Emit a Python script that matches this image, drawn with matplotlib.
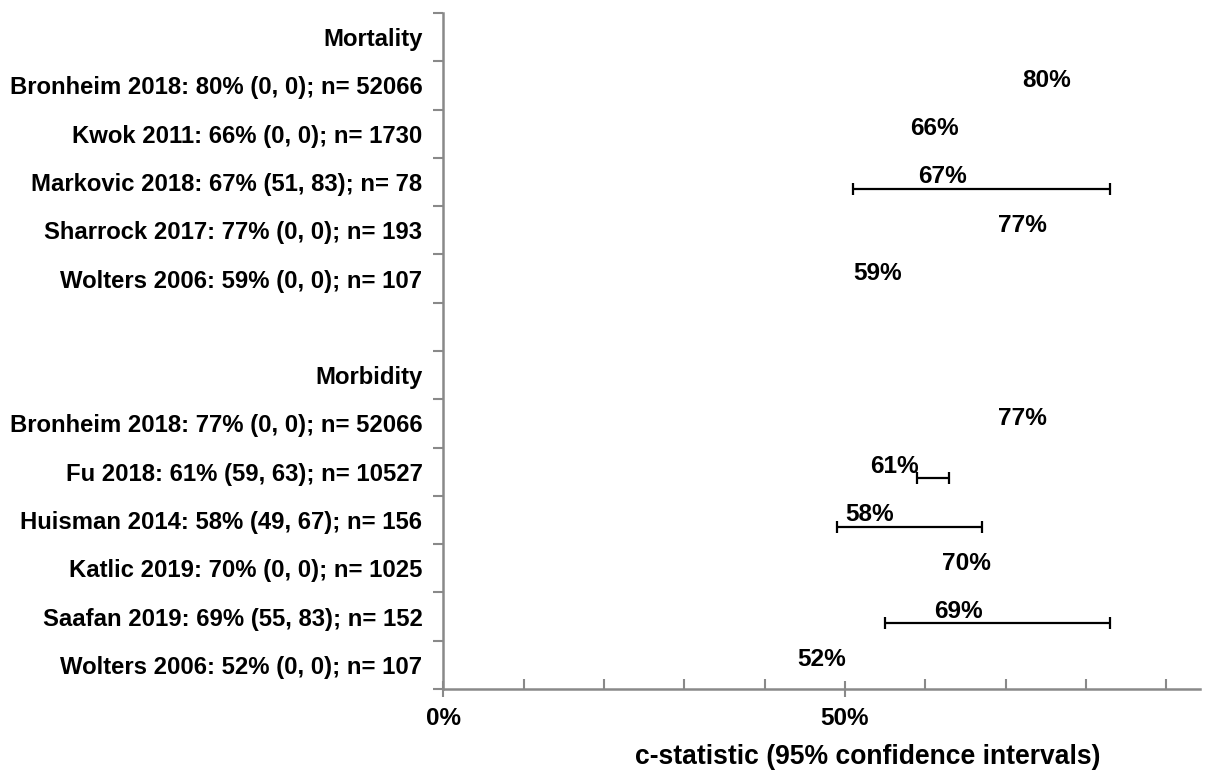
import numpy as np
import matplotlib
matplotlib.use("Agg")
import matplotlib.pyplot as plt

plt.rcParams['font.family'] = ['Liberation Sans', 'DejaVu Sans']
plt.rcParams['font.weight'] = 'bold'

# rows from top to bottom ("" = spacer row)
row_labels = ["Mortality",
              "Bronheim 2018: 80% (0, 0); n= 52066",
              "Kwok 2011: 66% (0, 0); n= 1730",
              "Markovic 2018: 67% (51, 83); n= 78",
              "Sharrock 2017: 77% (0, 0); n= 193",
              "Wolters 2006: 59% (0, 0); n= 107",
              "",
              "Morbidity",
              "Bronheim 2018: 77% (0, 0); n= 52066",
              "Fu 2018: 61% (59, 63); n= 10527",
              "Huisman 2014: 58% (49, 67); n= 156",
              "Katlic 2019: 70% (0, 0); n= 1025",
              "Saafan 2019: 69% (55, 83); n= 152",
              "Wolters 2006: 52% (0, 0); n= 107"]

# c-statistic per row (None = no point)
cstat = [None, 0.80, 0.66, 0.67, 0.77, 0.59, None,
         None, 0.77, 0.61, 0.58, 0.70, 0.69, 0.52]
ci_low = [None, None, None, 0.51, None, None, None,
          None, None, 0.59, 0.49, None, 0.55, None]
ci_high = [None, None, None, 0.83, None, None, None,
           None, None, 0.63, 0.67, None, 0.83, None]

xticks_major = [0.0, 0.5]
xtick_labels = ["0%", "50%"]

axis_col = '#898989'

fig = plt.figure(figsize=(12.09, 7.71), dpi=100)
ax = fig.add_axes([443.3/1209, 1-689/771, (1200-443.3)/1209, (689-13)/771])

n = len(row_labels)
for i in range(n):
    v = cstat[i]
    if v is None:
        continue
    yp = i + 0.14
    if ci_low[i] is not None:
        ax.errorbar(v, yp, xerr=[[v - ci_low[i]], [ci_high[i] - v]], fmt='none',
                    ecolor='black', elinewidth=1.6, capsize=4.5, capthick=1.6)
    ax.annotate(f"{v*100:.0f}%", (v, yp), xytext=(-15, 12), textcoords='offset pixels',
                ha='right', va='center', fontsize=17.6, fontweight='bold')

ax.set_xlim(0, 0.942)
ax.set_ylim(n - 0.5, -0.5)

ax.set_xticks(xticks_major)
ax.set_xticklabels(xtick_labels, fontsize=17.5, fontweight='bold')
ax.set_xticks(np.arange(0.1, 0.95, 0.1), minor=True)
ax.tick_params(axis='x', which='major', direction='inout', length=12, width=1.5,
               color=axis_col, pad=7)
ax.tick_params(axis='x', which='minor', direction='in', length=7, width=1.5, color=axis_col)

ax.set_yticks(np.arange(-0.5, n, 1.0))
ax.set_yticklabels([])
ax.set_yticks(np.arange(n), minor=True)
ax.set_yticklabels(row_labels, minor=True, fontsize=17.2, fontweight='bold')
ax.tick_params(axis='y', which='major', direction='out', length=7, width=1.5, color=axis_col)
ax.tick_params(axis='y', which='minor', length=0, pad=15)

for s in ['top', 'right']:
    ax.spines[s].set_visible(False)
for s in ['left', 'bottom']:
    ax.spines[s].set_color(axis_col)
    ax.spines[s].set_linewidth(1.8)

fig.text(867.5/1209, 1-757/771, "c-statistic (95% confidence intervals)",
         ha='center', va='center', fontsize=19.1, fontweight='bold')

fig.savefig("out.png", dpi=100)
